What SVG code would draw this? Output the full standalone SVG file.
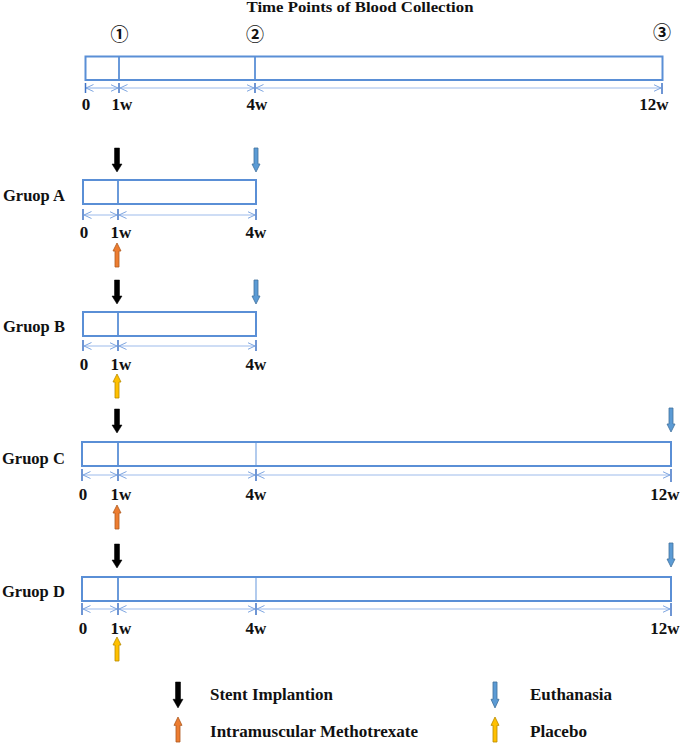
<svg xmlns="http://www.w3.org/2000/svg" xmlns:xlink="http://www.w3.org/1999/xlink" width="685" height="745" viewBox="0 0 685 745">
<style>
.t{font-family:'Liberation Serif','DejaVu Serif',serif;font-weight:700;fill:#111}
.g{font-size:16.5px}
.tk{font-size:17px;text-anchor:middle}
.lg{font-size:16px}
.circ{font-family:'Noto Sans CJK JP','DejaVu Sans',sans-serif;font-size:18px;font-weight:700;text-anchor:middle;fill:#111}
.box{fill:#fff;stroke:#5a8fd6;stroke-width:2}
.div{stroke:#5a8fd6;stroke-width:1.8}
.div2{stroke:#7fa8e2;stroke-width:1.2}
.dim{stroke:#9dbceb;stroke-width:1.2;fill:none;marker-start:url(#ch);marker-end:url(#ch)}
.tick{stroke:#3f73c6;stroke-width:1.5}
.ablk{fill:#000;stroke:#000;stroke-width:0.5}
.ablu{fill:#5b9bd5;stroke:#41719c;stroke-width:0.8}
.aor{fill:#ed7d31;stroke:#ae5a21;stroke-width:0.8}
.aye{fill:#ffc000;stroke:#b88a00;stroke-width:0.8}
</style>
<defs>
<marker id="ch" viewBox="0 0 8 8" refX="7.5" refY="4" markerWidth="8" markerHeight="8" markerUnits="userSpaceOnUse" orient="auto-start-reverse">
<path d="M0,0.5 L7.5,4 L0,7.5" fill="none" stroke="#7ea6e0" stroke-width="1"/>
</marker>
<path id="dn" d="M-2.5,0 H2.5 V16 H5 L0,24 L-5,16 H-2.5 Z"/>
<path id="dn2" d="M-2,0 H2 V16 H4 L0,24 L-4,16 H-2 Z"/>
</defs>

<g id="title">
<text class="t" x="360" y="12" font-size="15" text-anchor="middle" textLength="227" lengthAdjust="spacingAndGlyphs">Time Points of Blood Collection</text>
<text class="circ" x="119.5" y="41">①</text>
<text class="circ" x="255" y="41">②</text>
<text class="circ" x="662" y="39">③</text>
</g>

<g id="timeline">
<rect class="box" x="85.5" y="56.5" width="577" height="23.5"/>
<line class="div" x1="119" y1="56.5" x2="119" y2="80"/>
<line class="div" x1="255" y1="56.5" x2="255" y2="80"/>
<text class="t tk" x="86" y="110">0</text>
<text class="t tk" x="122" y="110">1w</text>
<text class="t tk" x="257" y="110">4w</text>
<text class="t tk" x="654" y="110">12w</text>
</g>

<g id="groupA">
<text class="t g" x="3" y="201">Gruop A</text>
<rect class="box" x="83" y="180" width="173" height="24"/>
<line class="div" x1="118" y1="180" x2="118" y2="204"/>
<text class="t tk" x="84" y="238">0</text>
<text class="t tk" x="121" y="238">1w</text>
<text class="t tk" x="256" y="238">4w</text>
</g>

<g id="groupB">
<text class="t g" x="3" y="332">Gruop B</text>
<rect class="box" x="83" y="312" width="173" height="24"/>
<line class="div" x1="118" y1="312" x2="118" y2="336"/>
<text class="t tk" x="84" y="370">0</text>
<text class="t tk" x="121" y="370">1w</text>
<text class="t tk" x="256" y="370">4w</text>
</g>

<g id="groupC">
<text class="t g" x="2" y="464">Gruop C</text>
<rect class="box" x="82" y="442" width="589" height="24"/>
<line class="div" x1="118" y1="442" x2="118" y2="466"/>
<line class="div2" x1="256" y1="443" x2="256" y2="465"/>
<text class="t tk" x="83" y="500">0</text>
<text class="t tk" x="121" y="500">1w</text>
<text class="t tk" x="256" y="500">4w</text>
<text class="t tk" x="665" y="500">12w</text>
</g>

<g id="groupD">
<text class="t g" x="2" y="597">Gruop D</text>
<rect class="box" x="82" y="577" width="589" height="24"/>
<line class="div" x1="118" y1="577" x2="118" y2="601"/>
<line class="div2" x1="256" y1="578" x2="256" y2="600"/>
<text class="t tk" x="83" y="634">0</text>
<text class="t tk" x="121" y="634">1w</text>
<text class="t tk" x="256" y="634">4w</text>
<text class="t tk" x="665" y="634">12w</text>
</g>

<g id="connectors">
<line class="dim" x1="86" y1="88" x2="118" y2="88"/>
<line class="dim" x1="120" y1="88" x2="254" y2="88"/>
<line class="dim" x1="256" y1="88" x2="661" y2="88"/>
<line class="tick" x1="85.5" y1="83" x2="85.5" y2="93"/>
<line class="tick" x1="119" y1="83" x2="119" y2="93"/>
<line class="tick" x1="255" y1="83" x2="255" y2="93"/>
<line class="tick" x1="662" y1="83" x2="662" y2="94"/>
<line class="dim" x1="84" y1="215" x2="117" y2="215"/>
<line class="dim" x1="119" y1="215" x2="255" y2="215"/>
<line class="tick" x1="83" y1="209" x2="83" y2="220"/>
<line class="tick" x1="118" y1="209" x2="118" y2="220"/>
<line class="tick" x1="256" y1="209" x2="256" y2="220"/>
<line class="dim" x1="84" y1="346" x2="117" y2="346"/>
<line class="dim" x1="119" y1="346" x2="255" y2="346"/>
<line class="tick" x1="83" y1="340" x2="83" y2="351"/>
<line class="tick" x1="118" y1="340" x2="118" y2="351"/>
<line class="tick" x1="256" y1="340" x2="256" y2="351"/>
<line class="dim" x1="83" y1="475" x2="117" y2="475"/>
<line class="dim" x1="119" y1="475" x2="255" y2="475"/>
<line class="dim" x1="257" y1="475" x2="670" y2="475"/>
<line class="tick" x1="82" y1="469" x2="82" y2="481"/>
<line class="tick" x1="118" y1="469" x2="118" y2="481"/>
<line class="tick" x1="256" y1="469" x2="256" y2="481" stroke="#8fb3e8"/>
<line class="tick" x1="671" y1="469" x2="671" y2="482"/>
<line class="dim" x1="83" y1="609" x2="117" y2="609"/>
<line class="dim" x1="119" y1="609" x2="255" y2="609"/>
<line class="dim" x1="257" y1="609" x2="670" y2="609"/>
<line class="tick" x1="82" y1="603" x2="82" y2="615"/>
<line class="tick" x1="118" y1="603" x2="118" y2="615"/>
<line class="tick" x1="256" y1="603" x2="256" y2="615" stroke="#8fb3e8"/>
<line class="tick" x1="671" y1="603" x2="671" y2="616"/>
</g>

<g id="arrows">
<use href="#dn" class="ablk" transform="translate(117,148)"/>
<use href="#dn2" class="ablu" transform="translate(256,148)"/>
<use href="#dn2" class="aor" transform="translate(117,267) rotate(180)"/>
<use href="#dn" class="ablk" transform="translate(117,280)"/>
<use href="#dn2" class="ablu" transform="translate(256,280)"/>
<use href="#dn2" class="aye" transform="translate(117,398) rotate(180)"/>
<use href="#dn" class="ablk" transform="translate(117,409)"/>
<use href="#dn2" class="ablu" transform="translate(671,408)"/>
<use href="#dn2" class="aor" transform="translate(117,529) rotate(180)"/>
<use href="#dn" class="ablk" transform="translate(117,544)"/>
<use href="#dn2" class="ablu" transform="translate(671,543)"/>
<use href="#dn2" class="aye" transform="translate(117,661) rotate(180)"/>
</g>

<g id="legend">
<use href="#dn" class="ablk" transform="translate(178,682) scale(1,1.08)"/>
<text class="t lg" x="210" y="700" textLength="123" lengthAdjust="spacingAndGlyphs">Stent Implantion</text>
<use href="#dn2" class="ablu" transform="translate(495,682) scale(1,1.08)"/>
<text class="t lg" x="530" y="700" textLength="82" lengthAdjust="spacingAndGlyphs">Euthanasia</text>
<use href="#dn2" class="aor" transform="translate(178,742) rotate(180) scale(1,1.04)"/>
<text class="t lg" x="210" y="737" textLength="208" lengthAdjust="spacingAndGlyphs">Intramuscular Methotrexate</text>
<use href="#dn2" class="aye" transform="translate(495,742) rotate(180) scale(1,1.04)"/>
<text class="t lg" x="530" y="737" textLength="57" lengthAdjust="spacingAndGlyphs">Placebo</text>
</g>
</svg>
